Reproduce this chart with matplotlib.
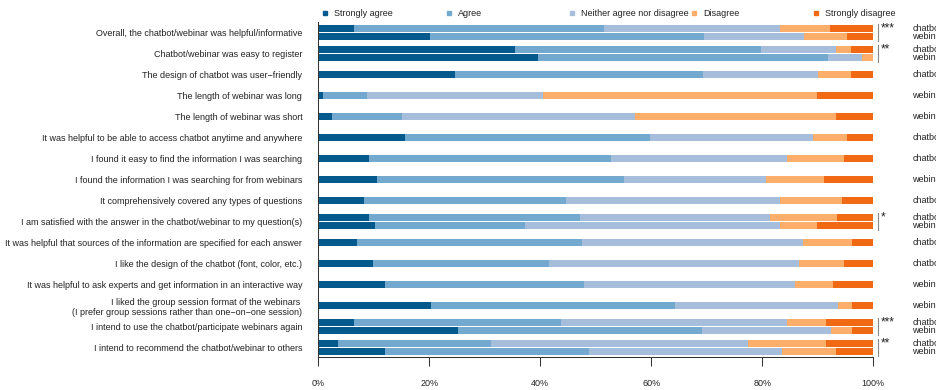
import matplotlib
matplotlib.use("Agg")
import matplotlib.pyplot as plt
from matplotlib.lines import Line2D
import numpy as np

plt.rcParams['font.family'] = ['Liberation Sans', 'DejaVu Sans']

questions = [
    "Overall, the chatbot/webinar was helpful/informative",
    "Chatbot/webinar was easy to register",
    "The design of chatbot was user\u2212friendly",
    "The length of webinar was long",
    "The length of webinar was short",
    "It was helpful to be able to access chatbot anytime and anywhere",
    "I found it easy to find the information I was searching",
    "I found the information I was searching for from webinars",
    "It comprehensively covered any types of questions",
    "I am satisfied with the answer in the chatbot/webinar to my question(s)",
    "It was helpful that sources of the information are specified for each answer",
    "I like the design of the chatbot (font, color, etc.)",
    "It was helpful to ask experts and get information in an interactive way",
    "I liked the group session format of the webinars \n(I prefer group sessions rather than one\u2212on\u2212one session)",
    "I intend to use the chatbot/participate webinars again",
    "I intend to recommend the chatbot/webinar to others",
]

categories = ["Strongly agree", "Agree", "Neither agree nor disagree", "Disagree", "Strongly disagree"]
colors = ["#045a8d", "#74a9cf", "#a6bddb", "#fdae6b", "#f16913"]

# one entry per bar
bar_question = [0, 0, 1, 1, 2, 3, 4, 5, 6, 7, 8, 9, 9, 10, 11, 12, 13, 14, 14, 15, 15]
bar_group = ["chatbot", "webinar", "chatbot", "webinar", "chatbot", "webinar", "webinar",
             "chatbot", "chatbot", "webinar", "chatbot", "chatbot", "webinar", "chatbot",
             "chatbot", "webinar", "webinar", "chatbot", "webinar", "chatbot", "webinar"]

strongly_agree = [6.5, 20.2, 35.4, 39.6, 24.7, 0.9, 2.4, 15.6, 9.1, 10.6, 8.2, 9.1, 10.2, 6.9, 9.9, 12.1, 20.3, 6.5, 25.1, 3.5, 12.1]
agree = [45.0, 49.3, 44.3, 52.2, 44.6, 7.8, 12.6, 44.2, 43.7, 44.5, 36.4, 38.1, 27.0, 40.7, 31.6, 35.7, 44.0, 37.2, 44.0, 27.6, 36.6]
neither = [31.7, 18.0, 13.5, 6.2, 20.7, 31.8, 42.1, 29.4, 31.6, 25.6, 38.6, 34.2, 45.9, 39.8, 45.1, 38.1, 29.4, 40.7, 23.2, 46.3, 34.9]
disagree = [9.0, 7.7, 2.8, 2.0, 6.0, 49.4, 36.1, 6.1, 10.4, 10.5, 11.2, 12.1, 6.8, 8.7, 8.2, 6.8, 2.5, 7.1, 3.9, 14.0, 9.6]
strongly_disagree = [7.8, 4.8, 4.0, 0.0, 4.0, 10.1, 6.8, 4.7, 5.2, 8.8, 5.6, 6.5, 10.1, 3.9, 5.2, 7.3, 3.8, 8.5, 3.8, 8.6, 6.8]

sig_questions = [0, 1, 9, 14, 15]
sig_labels = ["***", "**", "*", "***", "**"]

W, H = 937, 390
FS = 6.5
fig = plt.figure(figsize=(W / 100, H / 100), dpi=100)
ax_left, ax_right = 318.3 / W, 873.3 / W
ax_top, ax_bot = 1 - 22 / H, 1 - 357 / H
ax = fig.add_axes([ax_left, ax_bot, ax_right - ax_left, ax_top - ax_bot])

# bar y positions: pairs offset, singles centered
counts = {q: bar_question.count(q) for q in set(bar_question)}
seen = {}
ypos = []
for q in bar_question:
    k = seen.get(q, 0)
    seen[q] = k + 1
    if counts[q] == 2:
        ypos.append(q + (-0.205 if k == 0 else 0.205))
    else:
        ypos.append(float(q))
ypos = np.array(ypos)

series = [strongly_agree, agree, neither, disagree, strongly_disagree]
left = np.zeros(len(bar_question))
for vals, col in zip(series, colors):
    vals = np.array(vals)
    ax.barh(ypos, vals, left=left, height=0.33, color=col, edgecolor='none')
    left += vals

ax.set_xlim(0, 100)
ax.set_ylim(15.45, -0.5)
ax.set_yticks(range(len(questions)))
ax.set_yticklabels(questions, fontsize=FS, color="#222222")
ax.tick_params(axis='y', length=0, pad=11.5)
ax.set_xticks([0, 20, 40, 60, 80, 100])
ax.set_xticklabels(["0%", "20%", "40%", "60%", "80%", "100%"], fontsize=FS, color="#222222")
ax.tick_params(axis='x', length=6.5, width=0.75, pad=9, color="#333333", direction='out')
for s in ['top', 'right']:
    ax.spines[s].set_visible(False)
for s in ['left', 'bottom']:
    ax.spines[s].set_color("#333333")
    ax.spines[s].set_linewidth(0.75)

# group labels at right
for y, g in zip(ypos, bar_group):
    ax.text(107.0, y, g, fontsize=FS, va='center', ha='left', color="#222222", clip_on=False)

# significance markers
for q, lab in zip(sig_questions, sig_labels):
    ax.plot([100.8, 100.8], [q - 0.4, q + 0.4], color="#888888", lw=0.8, clip_on=False)
    ax.text(101.4, q - 0.48, lab, fontsize=8.5, va='top', ha='left', color="#222222", clip_on=False)

# legend
leg_y = 1 - 13 / H
marker_x = [325, 449, 572, 694, 816]
for mx, lab, col in zip(marker_x, categories, colors):
    fig.add_artist(Line2D([mx / W], [leg_y], marker='s', markersize=3.2, color=col,
                          linestyle='none', transform=fig.transFigure))
    fig.text((mx + 9) / W, leg_y, lab, fontsize=FS, va='center', ha='left', color="#222222")

fig.savefig("out.png", dpi=100)
